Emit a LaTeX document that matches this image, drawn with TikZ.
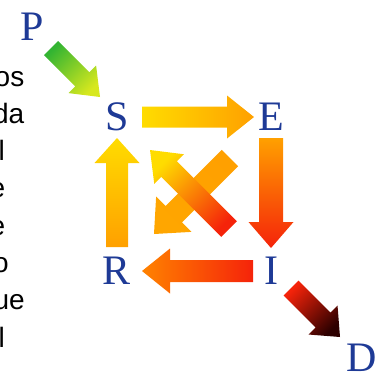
\documentclass[tikz,border=0pt]{standalone}
\usepackage{fontspec}
\usetikzlibrary{calc}
\newfontfamily\sansf{Liberation Sans}
\newfontfamily\serf{Liberation Serif}
\definecolor{letterblue}{RGB}{30,58,150}
\definecolor{cgreen}{RGB}{50,180,50}
\definecolor{cygreen}{RGB}{215,232,30}
\definecolor{cyellow}{RGB}{255,220,0}
\definecolor{corange}{RGB}{255,160,0}
\definecolor{cdorange}{RGB}{255,130,0}
\definecolor{cred}{RGB}{245,35,10}
\definecolor{cdark}{RGB}{45,0,0}
\newcommand{\fatarrow}[6]{%
  \coordinate (fa-b) at ($(#2)!#4!(#1)$);
  \shade[#6] ($(#1)!#3!90:(#2)$) -- ($(fa-b)!#3!90:(#2)$) -- ($(fa-b)!#5!90:(#2)$) -- (#2)
    -- ($(fa-b)!#5!-90:(#2)$) -- ($(fa-b)!#3!-90:(#2)$) -- ($(#1)!#3!-90:(#2)$) -- cycle;
}
\tikzset{
  letter/.style={font=\serf\fontsize{42}{42}\selectfont, text=letterblue, inner sep=0pt},
  sidetext/.style={font=\sansf\fontsize{28}{28}\selectfont, text=black, inner sep=0pt, anchor=base east}
}
\begin{document}
\begin{tikzpicture}[x=1pt,y=-1pt]
\useasboundingbox (0,0) rectangle (390,373);
% side text fragments
\node[sidetext] (t1) at (24.5,86) {os};
\node[sidetext] (t2) at (24.5,123.3) {da};
\node[sidetext] (t3) at (5,160.6) {l};
\node[sidetext] (t4) at (5.5,197.9) {e};
\node[sidetext] (t5) at (5.5,235.2) {e};
\node[sidetext] (t6) at (9,272.5) {o};
\node[sidetext] (t7) at (25,309.8) {ue};
\node[sidetext] (t8) at (5,347.1) {l};
% letters
\node[letter] (P) at (32,27) {P};
\node[letter] (S) at (117,117) {S};
\node[letter] (E) at (271,117) {E};
\node[letter] (R) at (117,271) {R};
\node[letter] (I) at (271,271) {I};
\node[letter] (D) at (362,358) {D};
% arrow end points
\coordinate (ps1) at ($(P)+(19,21)$);
\coordinate (ps2) at ($(S)+(-17,-20)$);
\coordinate (se1) at ($(S)+(25,0)$);
\coordinate (se2) at ($(E)+(-17,0)$);
\coordinate (ei1) at ($(E)+(0,21)$);
\coordinate (ei2) at ($(I)+(0,-23)$);
\coordinate (ir1) at ($(I)+(-18,0)$);
\coordinate (ir2) at ($(R)+(25,0)$);
\coordinate (rs1) at ($(R)+(0,-24)$);
\coordinate (rs2) at ($(S)+(0,21)$);
\coordinate (id1) at ($(I)+(20,17)$);
\coordinate (id2) at ($(D)+(-22,-21)$);
\coordinate (er1) at ($(E)+(-41,41)$);
\coordinate (er2) at ($(R)+(37,-37)$);
\coordinate (is1) at ($(I)+(-42,-42)$);
\coordinate (is2) at ($(S)+(33,33)$);
% arrows
\fatarrow{ps1}{ps2}{10pt}{25pt}{19.5pt}{top color=cgreen, bottom color=cygreen, shading angle=45}
\fatarrow{se1}{se2}{10.5pt}{27pt}{21.5pt}{left color=cyellow, right color=corange}
\fatarrow{ei1}{ei2}{12pt}{26pt}{22.5pt}{top color=corange, bottom color=cred}
\fatarrow{ir1}{ir2}{11pt}{28pt}{22.5pt}{left color=cdorange, right color=cred}
\fatarrow{rs1}{rs2}{11pt}{25pt}{22.5pt}{top color=cyellow, bottom color=corange}
\fatarrow{id1}{id2}{10.5pt}{24pt}{20.5pt}{top color=cred, bottom color=cdark, shading angle=45}
\fatarrow{er1}{er2}{11.5pt}{28pt}{25pt}{top color=corange, bottom color=corange!90!cyellow, shading angle=-45}
\fatarrow{is1}{is2}{11pt}{27pt}{21pt}{top color=cyellow, bottom color=cred, shading angle=45}
\end{tikzpicture}
\end{document}
